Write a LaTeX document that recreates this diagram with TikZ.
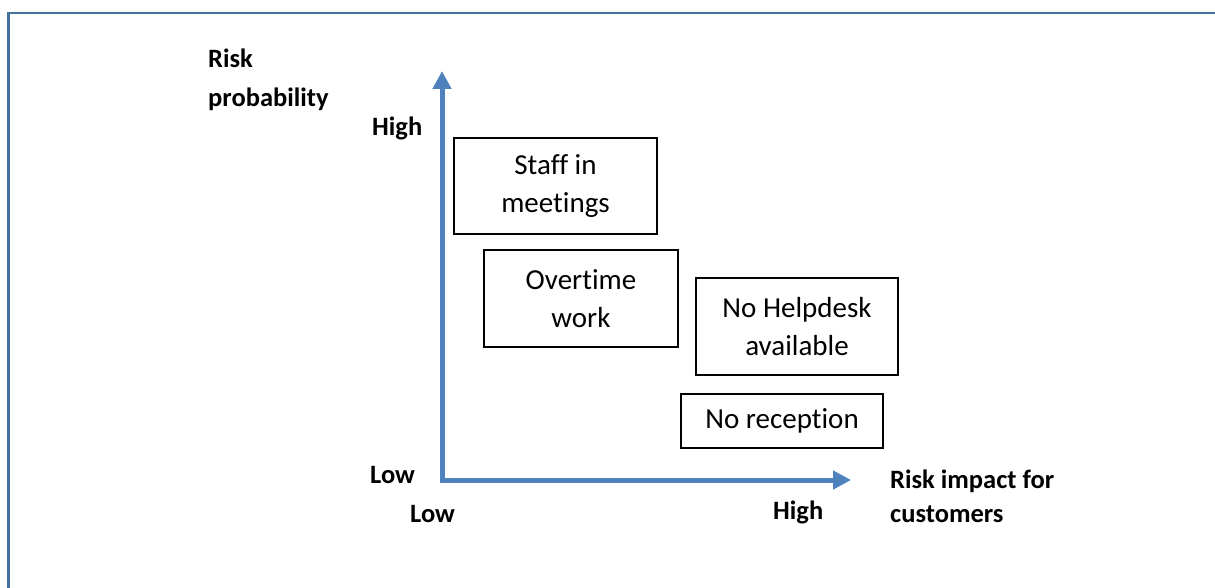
\documentclass[tikz,border=0pt]{standalone}
\usepackage{fontspec}
\setmainfont{Carlito}[Ligatures=NoCommon]
\usetikzlibrary{arrows.meta}
\definecolor{axisblue}{RGB}{79,129,189}
\definecolor{frameblue}{RGB}{65,113,156}
\begin{document}
\begin{tikzpicture}[x=1pt,y=-1pt,
  riskbox/.style={draw=black, line width=1.5pt, align=center, inner sep=0pt,
    font=\fontsize{29}{38.5}\selectfont},
  axislabel/.style={inner sep=0pt, align=left,
    font=\bfseries\fontsize{26.5}{34}\selectfont},
  axisline/.style={draw=axisblue, line width=5pt,
    {Triangle[length=18pt,width=18pt]}-{Triangle[length=18pt,width=18pt]}}
]
\useasboundingbox (0,0) rectangle (1215,588);
% frame: top and left edges only
\draw[frameblue, line width=2.5pt] (8.7,588) -- (8.7,13) -- (1215,13);

% axes
\coordinate (ytip) at (442,71);
\coordinate (xtip) at (851,480);
\draw[axisline] (ytip) |- (xtip);

% axis labels (base anchor sits on the last line)
\node[axislabel, anchor=base west, font=\bfseries\fontsize{26.5}{39}\selectfont]
  (ylab) at (208,107) {Risk\\probability};
\node[axislabel, anchor=base west] (yhigh)  at (372,136) {High};
\node[axislabel, anchor=base west] (ylow)   at (370,483) {Low};
\node[axislabel, anchor=base west] (xlow)   at (410,522) {Low};
\node[axislabel, anchor=base west] (xhigh)  at (773,519) {High};
\node[axislabel, anchor=base west] (xlab)   at (890,522) {Risk impact for\\customers};

% risks
\node[riskbox, minimum width=203pt, minimum height=96pt] (staff)    at (555.5,186)  {Staff in\\meetings};
\node[riskbox, minimum width=194pt, minimum height=97pt] (overtime) at (581,298.5)  {Overtime\\work};
\node[riskbox, minimum width=202pt, minimum height=97pt] (helpdesk) at (797,326.5)  {No Helpdesk\\available};
\node[riskbox, minimum width=202pt, minimum height=54pt] (reception) at (782,421)   {No reception};
\end{tikzpicture}
\end{document}
